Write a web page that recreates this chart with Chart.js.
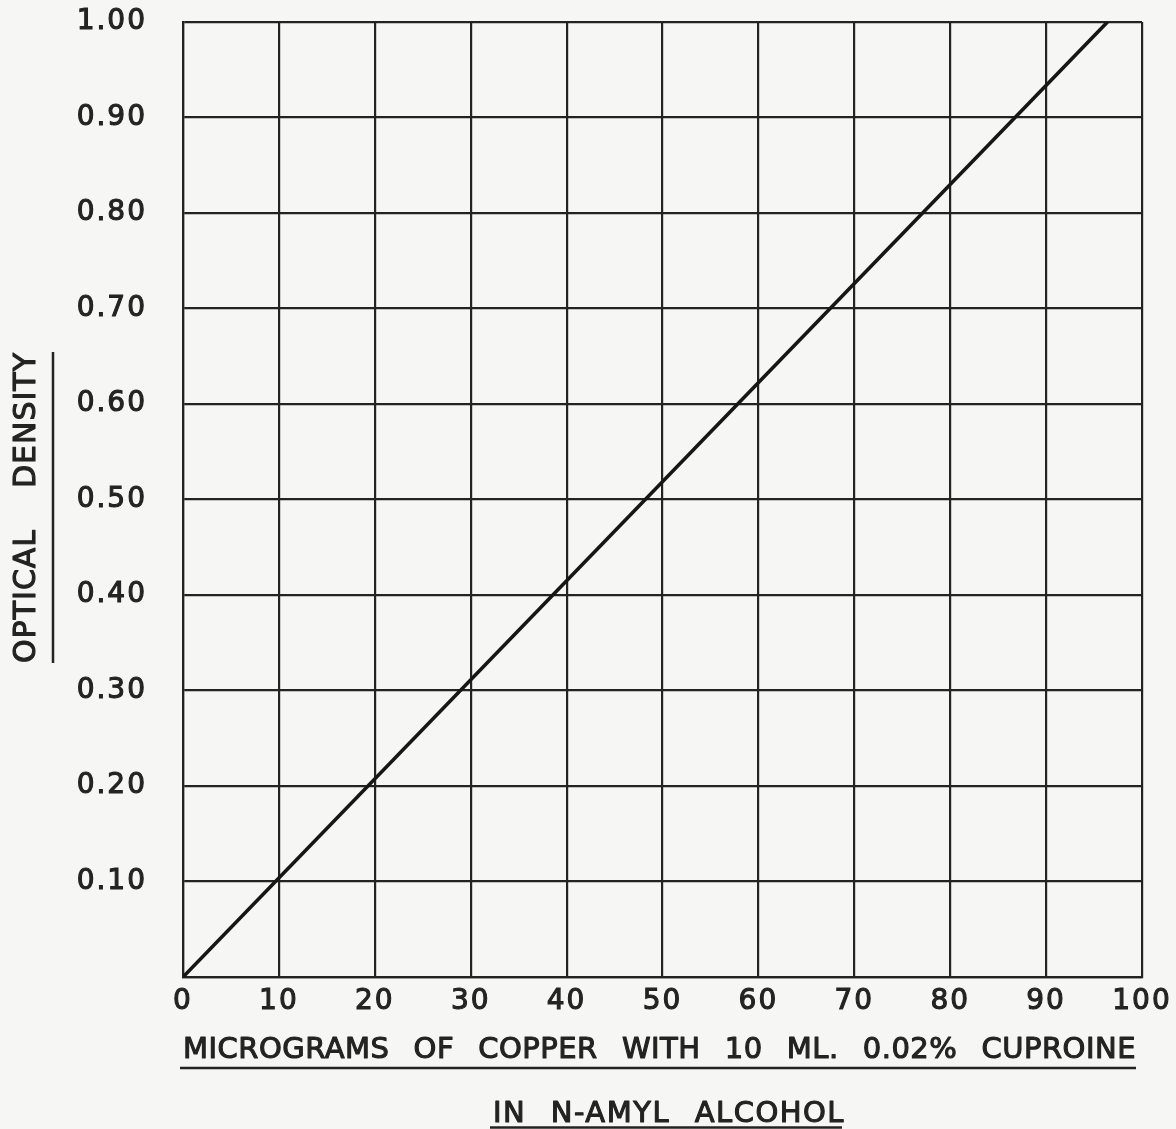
<!DOCTYPE html>
<html>
<head>
<meta charset="utf-8">
<title>Optical density of the copper–cuproine complex</title>
<script src="https://cdn.jsdelivr.net/npm/chart.js@4.4.1/dist/chart.umd.min.js"></script>
<style>
  html, body { margin: 0; padding: 0; background: #f6f6f4; }
  canvas { display: block; }
</style>
</head>
<body>
<canvas id="chart" width="1176" height="1129"></canvas>
<script>
// Calibration line: micrograms of copper vs. optical density
const copperMicrograms = [0, 96.4];
const opticalDensity   = [0, 1.00];

const xTickLabels = ['0', '10', '20', '30', '40', '50', '60', '70', '80', '90', '100'];
const yTickLabels = ['', '0.10', '0.20', '0.30', '0.40', '0.50', '0.60', '0.70', '0.80', '0.90', '1.00'];

const xTitleLines = ['MICROGRAMS OF COPPER WITH 10 ML. 0.02% CUPROINE', 'IN N-AMYL ALCOHOL'];
const yTitle = 'OPTICAL DENSITY';

const INK = '#232323';
const FONT = '"DejaVu Sans", "Liberation Sans", sans-serif';
const TEXT_STROKE = 1.1;

// Draw a line of words stretched across a given width, with a thin outline for a heavier pen stroke
function spreadWords(ctx, text, x0, x1, baseline) {
  const words = text.split(' ');
  const widths = words.map(w => ctx.measureText(w).width);
  const total = widths.reduce((a, b) => a + b, 0);
  const gap = words.length > 1 ? (x1 - x0 - total) / (words.length - 1) : 0;
  let x = x0;
  words.forEach((w, i) => {
    ctx.fillText(w, x, baseline);
    ctx.strokeText(w, x, baseline);
    x += widths[i] + gap;
  });
}

const titlePlugin = {
  id: 'underlinedTitles',
  beforeDraw(chart) {
    chart.ctx.letterSpacing = '2px';
  },
  afterDraw(chart) {
    const ctx = chart.ctx;
    const area = chart.chartArea;
    ctx.save();
    ctx.fillStyle = INK;
    ctx.strokeStyle = INK;
    ctx.lineJoin = 'round';
    ctx.textAlign = 'left';
    ctx.textBaseline = 'alphabetic';
    ctx.font = '29px ' + FONT;
    ctx.letterSpacing = '0.5px';
    ctx.lineWidth = TEXT_STROKE;

    // horizontal axis title, two underlined lines
    spreadWords(ctx, xTitleLines[0], area.left, area.right - 6, 1058);
    ctx.lineWidth = 2.5;
    ctx.beginPath();
    ctx.moveTo(area.left - 3, 1068);
    ctx.lineTo(area.right - 6, 1068);
    ctx.stroke();

    ctx.letterSpacing = '1.5px';
    ctx.lineWidth = TEXT_STROKE;
    spreadWords(ctx, xTitleLines[1], 493, 845, 1122);
    ctx.lineWidth = 2.5;
    ctx.beginPath();
    ctx.moveTo(490, 1127.5);
    ctx.lineTo(842, 1127.5);
    ctx.stroke();

    // vertical axis title, rotated, underlined on its right side
    ctx.save();
    ctx.translate(35, 663);
    ctx.rotate(-Math.PI / 2);
    ctx.font = '30px ' + FONT;
    ctx.letterSpacing = '1px';
    ctx.lineWidth = TEXT_STROKE;
    spreadWords(ctx, yTitle, 0, 311, 0);
    ctx.restore();
    ctx.lineWidth = 2.5;
    ctx.beginPath();
    ctx.moveTo(53, 352);
    ctx.lineTo(53, 663);
    ctx.stroke();

    ctx.restore();
  }
};

new Chart(document.getElementById('chart'), {
  type: 'scatter',
  data: {
    datasets: [{
      data: copperMicrograms.map((x, i) => ({ x, y: opticalDensity[i] })),
      showLine: true,
      borderColor: '#161616',
      borderWidth: 3.6,
      pointRadius: 0,
      fill: false
    }]
  },
  options: {
    responsive: false,
    animation: false,
    devicePixelRatio: 1,
    layout: { padding: { left: 0, top: 22, right: 34, bottom: 0 } },
    plugins: {
      legend: { display: false },
      tooltip: { enabled: false }
    },
    scales: {
      x: {
        type: 'linear',
        min: 0,
        max: 100,
        afterFit(scale) {
          scale.height = 152;
          scale.paddingLeft = 0;
          scale.paddingRight = 0;
        },
        afterBuildTicks(scale) {
          scale.ticks = xTickLabels.map(t => ({ value: Number(t) }));
        },
        ticks: {
          color: INK,
          textStrokeColor: INK,
          textStrokeWidth: TEXT_STROKE,
          padding: 8,
          maxRotation: 0,
          autoSkip: false,
          font: { family: FONT, size: 28 },
          callback: (v, i) => xTickLabels[i]
        },
        grid: { color: INK, lineWidth: 2.2, drawTicks: false },
        border: { display: true, color: INK, width: 2.2 }
      },
      y: {
        type: 'linear',
        min: 0,
        max: 1,
        afterFit(scale) {
          scale.width = 183;
          scale.paddingTop = 0;
          scale.paddingBottom = 0;
        },
        afterBuildTicks(scale) {
          scale.ticks = yTickLabels.map((t, i) => ({ value: i / 10 }));
        },
        ticks: {
          color: INK,
          textStrokeColor: INK,
          textStrokeWidth: TEXT_STROKE,
          padding: 36,
          autoSkip: false,
          font: { family: FONT, size: 28 },
          callback: (v, i) => yTickLabels[i]
        },
        grid: { color: INK, lineWidth: 2.2, drawTicks: false },
        border: { display: true, color: INK, width: 2.2 }
      }
    }
  },
  plugins: [titlePlugin]
});
</script>
</body>
</html>
